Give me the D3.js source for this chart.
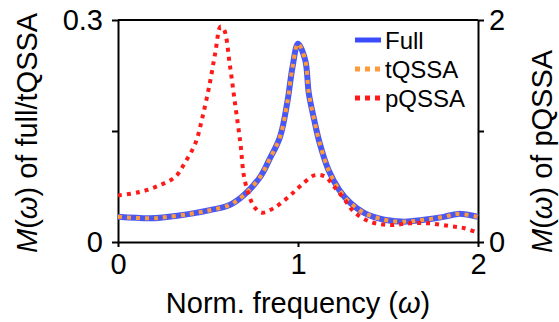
<!DOCTYPE html>
<html>
<head>
<meta charset="utf-8">
<script src="https://cdn.jsdelivr.net/npm/d3@7"></script>
<style>
  body { margin: 0; background: #fff; }
  svg { display: block; font-family: "Liberation Sans", Arial, sans-serif; }
</style>
</head>
<body>
<svg width="559" height="322"></svg>
<script>
// frequency (omega) and magnitude readings
const fullOmega = [0, 0.177, 0.26, 0.40, 0.51, 0.62, 0.70, 0.79, 0.84, 0.90, 0.94, 0.97, 1.00,
    1.04, 1.06, 1.09, 1.12, 1.17, 1.23, 1.29, 1.37, 1.48, 1.59, 1.70, 1.81, 1.89, 2.00];
const fullValues = [0.034, 0.032, 0.0335, 0.038, 0.043, 0.050, 0.0635, 0.088, 0.111, 0.142, 0.188, 0.237, 0.268,
    0.246, 0.201, 0.165, 0.134, 0.097, 0.070, 0.053, 0.039, 0.030, 0.0275, 0.030, 0.034, 0.038, 0.034];
const tqssaValues = [0.034, 0.032, 0.0335, 0.038, 0.043, 0.050, 0.0635, 0.088, 0.111, 0.142, 0.188, 0.237, 0.268,
    0.246, 0.201, 0.165, 0.134, 0.097, 0.070, 0.053, 0.039, 0.030, 0.0275, 0.030, 0.034, 0.038, 0.034];

const pOmega = [0, 0.12, 0.23, 0.32, 0.37, 0.43, 0.47, 0.51, 0.54, 0.57, 0.59, 0.62, 0.65, 0.68, 0.70,
    0.73, 0.76, 0.80, 0.87, 0.95, 1.01, 1.09, 1.15, 1.20, 1.26, 1.31, 1.40, 1.51, 1.62, 1.73, 1.84, 1.92, 2.00];
const pqssaValues = [0.42, 0.45, 0.51, 0.59, 0.71, 0.89, 1.13, 1.43, 1.70, 1.94, 1.91, 1.61, 1.25, 0.89, 0.59,
    0.41, 0.31, 0.264, 0.31, 0.41, 0.50, 0.60, 0.59, 0.50, 0.38, 0.273, 0.183, 0.153, 0.168, 0.168, 0.144, 0.126, 0.084];

const xTicks = [0, 1, 2];
const leftTicks = [0, 0.15, 0.3];
const leftLabels = ['0', '', '0.3'];
const rightTicks = [0, 1, 2];
const rightLabels = ['0', '', '2'];

const seriesNames = ['Full', 'tQSSA', 'pQSSA'];

const svg = d3.select('svg');

const x = d3.scaleLinear().domain([0, 2]).range([118, 478]);
const yLeft = d3.scaleLinear().domain([0, 0.3]).range([242, 20]);
const yRight = d3.scaleLinear().domain([0, 2]).range([242, 20]);

const fontSize = 29;

// frame top line
svg.append('line')
    .attr('x1', x(0)).attr('x2', x(2))
    .attr('y1', yLeft(0.3)).attr('y2', yLeft(0.3))
    .attr('stroke', '#000').attr('stroke-width', 2);

const styleAxis = (g) => {
    g.select('.domain').attr('stroke', '#000').attr('stroke-width', 2);
    g.selectAll('.tick line').attr('stroke', '#000').attr('stroke-width', 2);
    g.selectAll('.tick text')
        .attr('font-size', fontSize)
        .attr('font-family', '"Liberation Sans", Arial, sans-serif')
        .attr('fill', '#000');
};

svg.append('g')
    .attr('transform', `translate(0,${yLeft(0)})`)
    .call(d3.axisBottom(x).tickValues(xTicks).tickFormat(d3.format('d')).tickSize(5).tickSizeOuter(0).tickPadding(6))
    .call(styleAxis);

svg.append('g')
    .attr('transform', `translate(${x(0)},0)`)
    .call(d3.axisLeft(yLeft).tickValues(leftTicks).tickFormat((d, i) => leftLabels[i]).tickSize(6).tickSizeOuter(0).tickPadding(9))
    .call(styleAxis);

svg.append('g')
    .attr('transform', `translate(${x(2)},0)`)
    .call(d3.axisRight(yRight).tickValues(rightTicks).tickFormat((d, i) => rightLabels[i]).tickSize(6).tickSizeOuter(0).tickPadding(5))
    .call(styleAxis);

// curves
const lineLeft = d3.line()
    .x(d => x(d[0]))
    .y(d => yLeft(d[1]))
    .curve(d3.curveCatmullRom.alpha(0.5));
const lineRight = d3.line()
    .x(d => x(d[0]))
    .y(d => yRight(d[1]))
    .curve(d3.curveCatmullRom.alpha(0.5));

svg.append('path')
    .datum(d3.zip(fullOmega, fullValues))
    .attr('d', lineLeft)
    .attr('fill', 'none')
    .attr('stroke', '#4a58f2')
    .attr('stroke-width', 6);

svg.append('path')
    .datum(d3.zip(fullOmega, tqssaValues))
    .attr('d', lineLeft)
    .attr('fill', 'none')
    .attr('stroke', '#ff9a3c')
    .attr('stroke-width', 4)
    .attr('stroke-dasharray', '4,5');

svg.append('path')
    .datum(d3.zip(pOmega, pqssaValues))
    .attr('d', lineRight)
    .attr('fill', 'none')
    .attr('stroke', '#ff1a1a')
    .attr('stroke-width', 4)
    .attr('stroke-dasharray', '4,5');

// legend
const legendStyles = [
    { color: '#3a4cff', width: 5, dash: null },
    { color: '#ff9a3c', width: 5, dash: '5,5' },
    { color: '#ff1a1a', width: 5, dash: '5,5' }
];
const legend = svg.append('g').attr('transform', 'translate(355,40)');
const item = legend.selectAll('g').data(seriesNames).enter().append('g')
    .attr('transform', (d, i) => `translate(0,${i * 29})`);
item.append('line')
    .attr('x1', 0).attr('x2', 26).attr('y1', 0).attr('y2', 0)
    .attr('stroke', (d, i) => legendStyles[i].color)
    .attr('stroke-width', (d, i) => legendStyles[i].width)
    .attr('stroke-dasharray', (d, i) => legendStyles[i].dash);
item.append('text')
    .attr('x', 30).attr('y', 8.5)
    .attr('font-size', 24)
    .text(d => d);

// axis titles
const xTitle = svg.append('text')
    .attr('x', x(1)).attr('y', 313)
    .attr('text-anchor', 'middle')
    .attr('font-size', fontSize);
xTitle.append('tspan').text('Norm. frequency (');
xTitle.append('tspan').attr('font-style', 'italic').text('ω');
xTitle.append('tspan').text(')');

const yTitle = (xPos, rest) => {
    const t = svg.append('text')
        .attr('transform', `translate(${xPos},253) rotate(-90)`)
        .attr('text-anchor', 'start')
        .attr('font-size', fontSize);
    t.append('tspan').attr('font-style', 'italic').text('M');
    t.append('tspan').text('(');
    t.append('tspan').attr('font-style', 'italic').text('ω');
    t.append('tspan').text(') of ' + rest);
};
yTitle(37, 'full/tQSSA');
yTitle(552, 'pQSSA');
</script>
</body>
</html>
